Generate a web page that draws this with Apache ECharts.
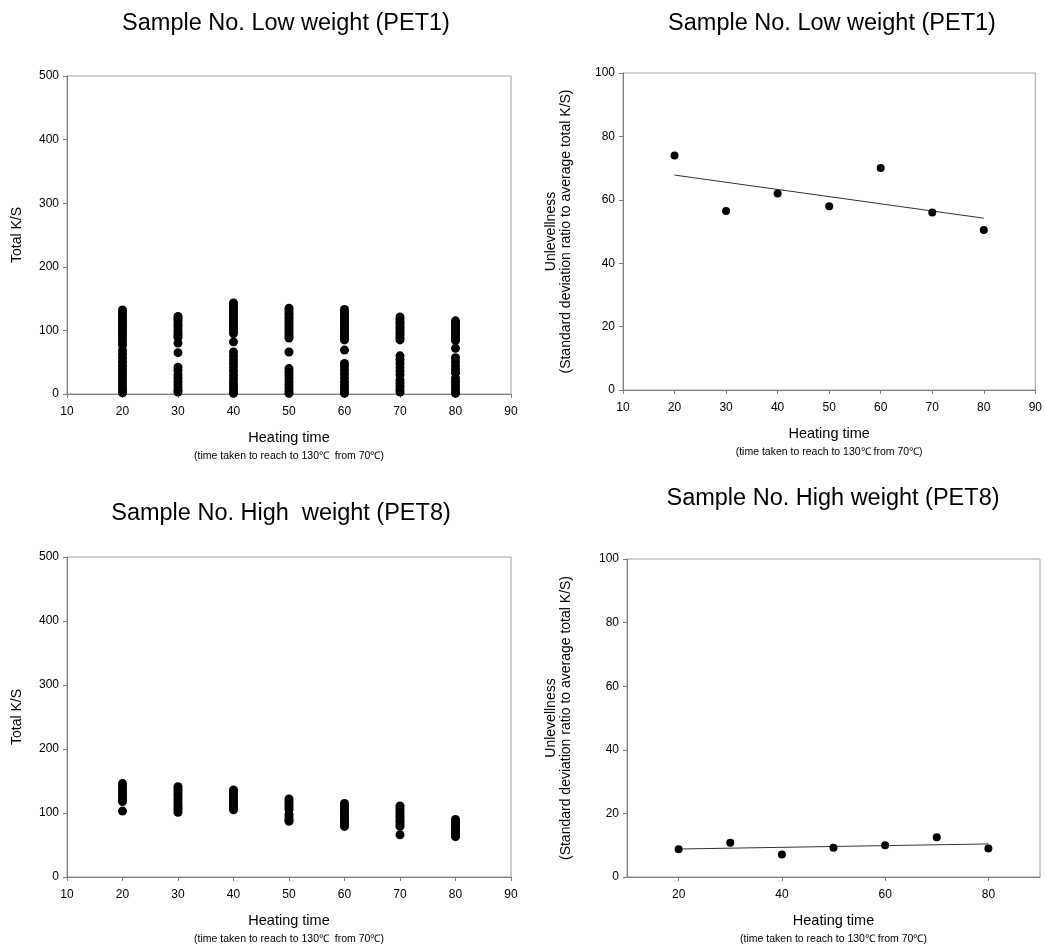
<!DOCTYPE html>
<html>
<head>
<meta charset="utf-8">
<script src="https://cdn.jsdelivr.net/npm/echarts@6/dist/echarts.min.js"></script>
<style>
html,body{margin:0;padding:0;background:#fff;}
#chart{width:1045px;height:950px;}
</style>
</head>
<body>
<div id="chart"></div>
<script>
// ---------- data ----------
var heatingTimes = [20, 30, 40, 50, 60, 70, 80];

// Total K/S, low weight (PET1): one list of readings per heating time
var lowKS20 = [132,128,124,120,116,112,108,104,100,96,92,87,82,77,69,63,57,51,45,40,35,30,25,20,15,10,6,2];
var lowKS30 = [122,119,116,112,108,104,100,96,92,89,80,65,42,37,30,25,20,15,10,6,3];
var lowKS40 = [143,139,135,131,127,123,119,115,111,107,103,99,95,82,66,60,54,48,42,36,30,24,18,13,9,5,1];
var lowKS50 = [135,131,127,123,119,115,111,107,103,99,95,91,88,66,40,35,30,25,20,15,10,5,1];
var lowKS60 = [133,129,125,121,117,113,109,105,101,97,93,89,85,69,48,43,37,31,25,19,14,9,5,1];
var lowKS70 = [121,117,113,109,105,101,97,93,89,85,60,54,48,42,36,30,22,17,12,7,3];
var lowKS80 = [115,111,107,103,99,95,91,87,84,72,57,51,45,39,33,25,20,15,10,5,1];

// Total K/S, high weight (PET8)
var highKS20 = [146,142,138,134,130,126,122,118,103];
var highKS30 = [141,137,133,129,125,121,117,113,109,105,101];
var highKS40 = [136,132,128,124,120,116,112,108,105];
var highKS50 = [122,118,114,110,106,98,94,90,87];
var highKS60 = [115,111,107,103,99,95,91,87,83,79];
var highKS70 = [111,107,103,99,95,91,87,83,79,66];
var highKS80 = [90,87,84,81,78,75,72,69,66,63];

// Unlevellness (%)
var lowUnlevel  = [74, 56.5, 62, 58, 70, 56, 50.5];
var highUnlevel = [8.7, 10.8, 7.1, 9.2, 10, 12.5, 9];

// trend lines (end points)
var trendX = [20, 80];
var lowTrend  = [67.8, 54.2];
var highTrend = [8.8, 10.4];

// axis ticks
var xTicksFull = [10, 90, 10];      // min, max, interval
var xTicksBR = [20, 40, 60, 80];    // labelled ticks, bottom-right

// ---------- build ----------
var lowKS  = [lowKS20, lowKS30, lowKS40, lowKS50, lowKS60, lowKS70, lowKS80];
var highKS = [highKS20, highKS30, highKS40, highKS50, highKS60, highKS70, highKS80];

function columns(lists) {
  var out = [];
  lists.forEach(function (vals, i) {
    vals.forEach(function (v) { out.push([heatingTimes[i], v]); });
  });
  return out;
}
function pairs(xs, ys) { return xs.map(function (x, i) { return [x, ys[i]]; }); }

var FONT = 'Arial, "Liberation Sans", sans-serif';
var axisLineStyle = { color: '#7f7f7f', width: 1 };

function xAxisCfg(grid, custom) {
  var a = {
    gridIndex: grid, type: 'value',
    min: xTicksFull[0], max: xTicksFull[1], interval: xTicksFull[2],
    splitLine: { show: false },
    axisLine: { show: true, onZero: false, lineStyle: axisLineStyle },
    axisTick: { show: true, inside: false, length: 4, lineStyle: axisLineStyle },
    axisLabel: { color: '#000', fontSize: 12, fontFamily: FONT, margin: 12 },
    nameLocation: 'middle', nameGap: 35,
    name: '{a|Heating time}\n{b|(time taken to reach to 130\u2103' + (grid % 2 === 0 ? '  ' : ' ') + 'from 70\u2103)}',
    nameTextStyle: {
      color: '#000', fontFamily: FONT,
      rich: {
        a: { fontSize: 14.5, lineHeight: 18, fontFamily: FONT, color: '#000' },
        b: { fontSize: 10.5, lineHeight: 19, fontFamily: FONT, color: '#000' }
      }
    }
  };
  if (custom) {
    a.axisLabel.customValues = custom;
    a.axisTick.customValues = custom;
  }
  return a;
}
function yAxisCfg(grid, max, interval, name, gap) {
  return {
    gridIndex: grid, type: 'value', min: 0, max: max, interval: interval,
    splitLine: { show: false },
    axisLine: { show: true, onZero: false, lineStyle: axisLineStyle },
    axisTick: { show: true, inside: false, length: 4, lineStyle: axisLineStyle },
    axisLabel: { color: '#000', fontSize: 12, fontFamily: FONT, margin: 8 },
    name: name, nameLocation: 'middle', nameGap: gap, nameRotate: 90,
    nameTextStyle: { color: '#000', fontSize: 14, fontFamily: FONT, lineHeight: 15 }
  };
}

var unlevelName = 'Unlevellness\n(Standard deviation ratio to average total K/S)';

var gridStyle = { show: true, borderColor: '#a0a0a0', borderWidth: 1, backgroundColor: 'transparent' };
var dotStyle = { color: '#000', opacity: 1 };
var option = {
  animation: false,
  backgroundColor: '#fff',
  grid: [
    Object.assign({ left: 67, right: 534, top: 76, height: 318 }, gridStyle),
    Object.assign({ left: 623, right: 8, top: 73, height: 317 }, gridStyle),
    Object.assign({ left: 67, right: 534, top: 557, height: 320 }, gridStyle),
    Object.assign({ left: 627, right: 5, top: 559, height: 318 }, gridStyle)
  ],
  xAxis: [xAxisCfg(0), xAxisCfg(1), xAxisCfg(2), xAxisCfg(3, xTicksBR)],
  yAxis: [
    yAxisCfg(0, 500, 100, 'Total K/S', 42),
    yAxisCfg(1, 100, 20, unlevelName, 49),
    yAxisCfg(2, 500, 100, 'Total K/S', 42),
    yAxisCfg(3, 100, 20, unlevelName, 53)
  ],
  series: [
    { type: 'scatter', xAxisIndex: 0, yAxisIndex: 0, data: columns(lowKS), symbolSize: 9, itemStyle: dotStyle },
    { type: 'scatter', xAxisIndex: 1, yAxisIndex: 1, data: pairs(heatingTimes, lowUnlevel), symbolSize: 8, itemStyle: dotStyle, z: 3 },
    { type: 'line', xAxisIndex: 1, yAxisIndex: 1, data: pairs(trendX, lowTrend), symbol: 'none', lineStyle: { color: '#333', width: 1 } },
    { type: 'scatter', xAxisIndex: 2, yAxisIndex: 2, data: columns(highKS), symbolSize: 9, itemStyle: dotStyle },
    { type: 'scatter', xAxisIndex: 3, yAxisIndex: 3, data: pairs(heatingTimes, highUnlevel), symbolSize: 8, itemStyle: dotStyle, z: 3 },
    { type: 'line', xAxisIndex: 3, yAxisIndex: 3, data: pairs(trendX, highTrend), symbol: 'none', lineStyle: { color: '#333', width: 1 } }
  ]
};

var titles = [
  { t: 'Sample No. Low weight (PET1)', x: 286, y: 24 },
  { t: 'Sample No. Low weight (PET1)', x: 832, y: 24 },
  { t: 'Sample No. High  weight (PET8)', x: 281, y: 514 },
  { t: 'Sample No. High weight (PET8)', x: 833, y: 499 }
];
option.graphic = titles.map(function (d) {
  return {
    type: 'text', x: d.x, y: d.y, silent: true,
    style: { text: d.t, fill: '#000', font: '23.5px ' + FONT, textAlign: 'center', textVerticalAlign: 'middle' }
  };
});

var chart = echarts.init(document.getElementById('chart'), null, { renderer: 'canvas' });
chart.setOption(option);
</script>
</body>
</html>
